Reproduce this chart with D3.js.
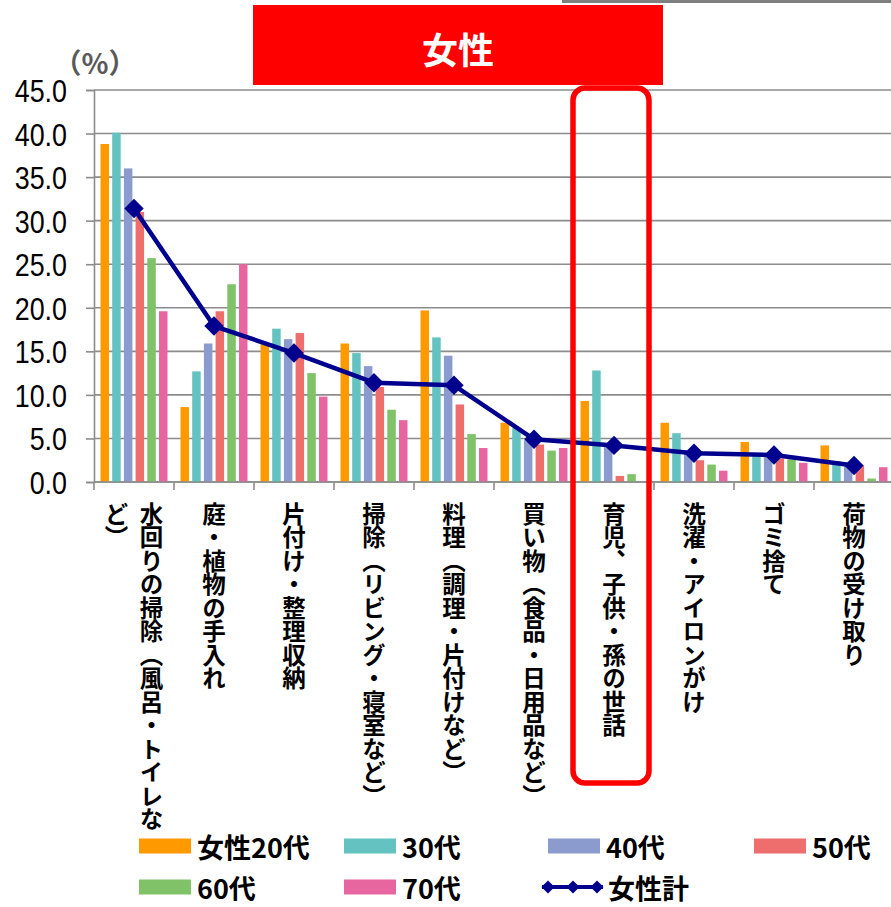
<!DOCTYPE html>
<html>
<head>
<meta charset="utf-8">
<script src="https://cdn.jsdelivr.net/npm/d3@7"></script>
<style>
  html, body { margin: 0; padding: 0; background: #fff; }
  svg { display: block; }
</style>
</head>
<body>
<svg id="chart" width="891" height="907"></svg>
<script>
// Household chores handled by women, by age group (%)
const categories = [
  "水回りの掃除（風呂・トイレなど）",
  "庭・植物の手入れ",
  "片付け・整理収納",
  "掃除（リビング・寝室など）",
  "料理（調理・片付けなど）",
  "買い物（食品・日用品など）",
  "育児、子供・孫の世話",
  "洗濯・アイロンがけ",
  "ゴミ捨て",
  "荷物の受け取り"
];
// Label lines when written vertically (first label wraps to a second column)
const labelLines = [
  ["水回りの掃除（風呂・トイレな", "ど）"],
  ["庭・植物の手入れ"],
  ["片付け・整理収納"],
  ["掃除（リビング・寝室など）"],
  ["料理（調理・片付けなど）"],
  ["買い物（食品・日用品など）"],
  ["育児、子供・孫の世話"],
  ["洗濯・アイロンがけ"],
  ["ゴミ捨て"],
  ["荷物の受け取り"]
];
const seriesNames = ["女性20代", "30代", "40代", "50代", "60代", "70代"];
const age20 = [38.8, 8.6, 15.8, 15.9, 19.7, 6.8, 9.3, 6.8, 4.6, 4.2];
const age30 = [40.1, 12.7, 17.6, 14.8, 16.6, 6.2, 12.8, 5.6, 3.2, 2.4];
const age40 = [36.0, 15.9, 16.4, 13.3, 14.5, 4.8, 4.3, 3.5, 3.2, 1.8];
const age50 = [31.0, 19.6, 17.1, 10.9, 8.9, 4.3, 0.7, 2.5, 2.7, 1.9];
const age60 = [25.7, 22.7, 12.5, 8.3, 5.5, 3.6, 0.9, 2.0, 2.6, 0.4];
const age70 = [19.6, 25.0, 9.8, 7.1, 3.9, 3.9, 0.0, 1.3, 2.2, 1.7];
const totalName = "女性計";
const totalValues = [31.4, 17.9, 14.8, 11.4, 11.1, 4.9, 4.2, 3.3, 3.1, 1.9];
const yTicks = [0, 5, 10, 15, 20, 25, 30, 35, 40, 45];
const seriesColors = ["#FF9900", "#64C3C0", "#8C9BCD", "#EE6E6E", "#80C268", "#E866A0"];
const lineColor = "#00008E";
const highlightCategory = "育児、子供・孫の世話";

const seriesValues = [age20, age30, age40, age50, age60, age70];

const svg = d3.select("#chart");
const jp = "'Noto Sans CJK JP', 'Noto Sans', sans-serif";
const num = "'Liberation Sans', Arial, sans-serif";

const plotLeft = 94, plotRight = 894, plotTop = 90, plotBottom = 482;

const x0 = d3.scaleBand().domain(categories).range([plotLeft, plotRight]).padding(0);
const x1 = d3.scaleBand().domain(seriesNames).range([0, x0.bandwidth()])
  .paddingInner(0.274).paddingOuter(0.556);
const y = d3.scaleLinear().domain([0, 45]).range([plotBottom, plotTop]);

// top decorative rule
svg.append("line")
  .attr("x1", 562).attr("x2", 891).attr("y1", 1.5).attr("y2", 1.5)
  .attr("stroke", "#7f7f7f").attr("stroke-width", 3);

// title banner
svg.append("rect").attr("x", 253).attr("y", 5).attr("width", 410).attr("height", 80)
  .attr("fill", "#FF0000");
svg.append("text").attr("x", 458).attr("y", 48)
  .attr("text-anchor", "middle").attr("dominant-baseline", "central")
  .attr("fill", "#fff").attr("font-family", jp).attr("font-weight", 700)
  .attr("font-size", 36).text("女性");

// unit label
svg.append("text").attr("x", 95).attr("y", 62)
  .attr("text-anchor", "middle").attr("dominant-baseline", "central")
  .attr("fill", "#595959").attr("font-family", jp).attr("font-weight", 700)
  .attr("font-size", 28).text("（%）");

// horizontal gridlines
svg.append("g").selectAll("line").data(yTicks).join("line")
  .attr("x1", plotLeft).attr("x2", 891)
  .attr("y1", d => y(d)).attr("y2", d => y(d))
  .attr("stroke", "#8c8c8c").attr("stroke-width", 1.6);

// grouped bars
const groups = svg.append("g").selectAll("g").data(categories).join("g")
  .attr("transform", d => `translate(${x0(d)},0)`);
groups.selectAll("rect")
  .data((c, i) => seriesNames.map((s, k) => ({ s, k, v: seriesValues[k][i] })))
  .join("rect")
  .attr("x", d => x1(d.s))
  .attr("width", x1.bandwidth())
  .attr("y", d => y(d.v))
  .attr("height", d => y(0) - y(d.v))
  .attr("fill", d => seriesColors[d.k]);

// y axis
const yAxis = d3.axisLeft(y).tickValues(yTicks).tickFormat(d3.format(".1f"))
  .tickSize(8).tickPadding(8);
const gy = svg.append("g").attr("transform", `translate(${plotLeft},0)`).call(yAxis);
gy.select(".domain").attr("stroke", "#8c8c8c").attr("stroke-width", 1.6);
gy.selectAll(".tick line").attr("stroke", "#8c8c8c").attr("stroke-width", 1.6);
const labelScaleX = 0.84;
gy.selectAll(".tick text").attr("font-family", num).attr("font-size", 32)
  .attr("fill", "#000").attr("x", -27 / labelScaleX).attr("dy", "0.36em")
  .attr("transform", `scale(${labelScaleX},1)`);

// x axis baseline with ticks at category boundaries
const gx = svg.append("g");
gx.append("line").attr("x1", plotLeft).attr("x2", 891)
  .attr("y1", y(0)).attr("y2", y(0))
  .attr("stroke", "#8c8c8c").attr("stroke-width", 1.6);
gx.selectAll(".bt").data(categories).join("line").attr("class", "bt")
  .attr("x1", d => x0(d)).attr("x2", d => x0(d))
  .attr("y1", y(0)).attr("y2", y(0) + 8)
  .attr("stroke", "#8c8c8c").attr("stroke-width", 1.6);

// total line with diamond markers
const cx = d => x0(d) + x0.bandwidth() / 2;
const lineGen = d3.line().x((d, i) => cx(categories[i])).y(d => y(d));
svg.append("path").datum(totalValues)
  .attr("d", lineGen).attr("fill", "none")
  .attr("stroke", lineColor).attr("stroke-width", 4.5).attr("stroke-linejoin", "round");
const diamond = d3.symbol().type(d3.symbolDiamond2).size(240);
svg.append("g").selectAll("path").data(totalValues).join("path")
  .attr("d", diamond)
  .attr("transform", (d, i) => `translate(${cx(categories[i])},${y(d)})`)
  .attr("fill", lineColor);

// highlight frame around one category
const hx = x0(highlightCategory);
svg.append("rect")
  .attr("x", hx - 1).attr("y", 88)
  .attr("width", x0.bandwidth() - 4).attr("height", 695)
  .attr("rx", 12).attr("ry", 12)
  .attr("fill", "none").attr("stroke", "#FF0000").attr("stroke-width", 5.5);

// vertical category labels
const lbl = svg.append("g");
categories.forEach((c, i) => {
  const lines = labelLines[i];
  const gap = 35;
  const center = cx(c);
  lines.forEach((t, j) => {
    const xPos = center + ((lines.length - 1) / 2 - j) * gap;
    lbl.append("text")
      .attr("x", xPos).attr("y", 502)
      .style("writing-mode", "vertical-rl")
      .attr("font-family", jp).attr("font-weight", 700)
      .attr("font-size", 23.5).attr("fill", "#000")
      .text(t);
  });
});

// legend
const legendItems = [
  { name: seriesNames[0], color: seriesColors[0], x: 139, row: 0 },
  { name: seriesNames[1], color: seriesColors[1], x: 344, row: 0 },
  { name: seriesNames[2], color: seriesColors[2], x: 548, row: 0 },
  { name: seriesNames[3], color: seriesColors[3], x: 754, row: 0 },
  { name: seriesNames[4], color: seriesColors[4], x: 139, row: 1 },
  { name: seriesNames[5], color: seriesColors[5], x: 344, row: 1 }
];
const rowY = [846, 887];
const lg = svg.append("g");
legendItems.forEach(it => {
  const cyv = rowY[it.row];
  lg.append("rect").attr("x", it.x).attr("y", cyv - 7.5)
    .attr("width", 52).attr("height", 15).attr("fill", it.color);
  lg.append("text").attr("x", it.x + 58).attr("y", cyv)
    .attr("dominant-baseline", "central")
    .attr("font-family", jp).attr("font-weight", 700).attr("font-size", 27)
    .attr("fill", "#000").text(it.name);
});
// legend entry for the total line
lg.append("line").attr("x1", 542).attr("x2", 603).attr("y1", rowY[1]).attr("y2", rowY[1])
  .attr("stroke", lineColor).attr("stroke-width", 4);
const smallDiamond = d3.symbol().type(d3.symbolDiamond2).size(110);
[548, 573, 597].forEach(px => {
  lg.append("path").attr("d", smallDiamond)
    .attr("transform", `translate(${px},${rowY[1]})`).attr("fill", lineColor);
});
lg.append("text").attr("x", 608).attr("y", rowY[1])
  .attr("dominant-baseline", "central")
  .attr("font-family", jp).attr("font-weight", 700).attr("font-size", 27)
  .attr("fill", "#000").text(totalName);
</script>
</body>
</html>
